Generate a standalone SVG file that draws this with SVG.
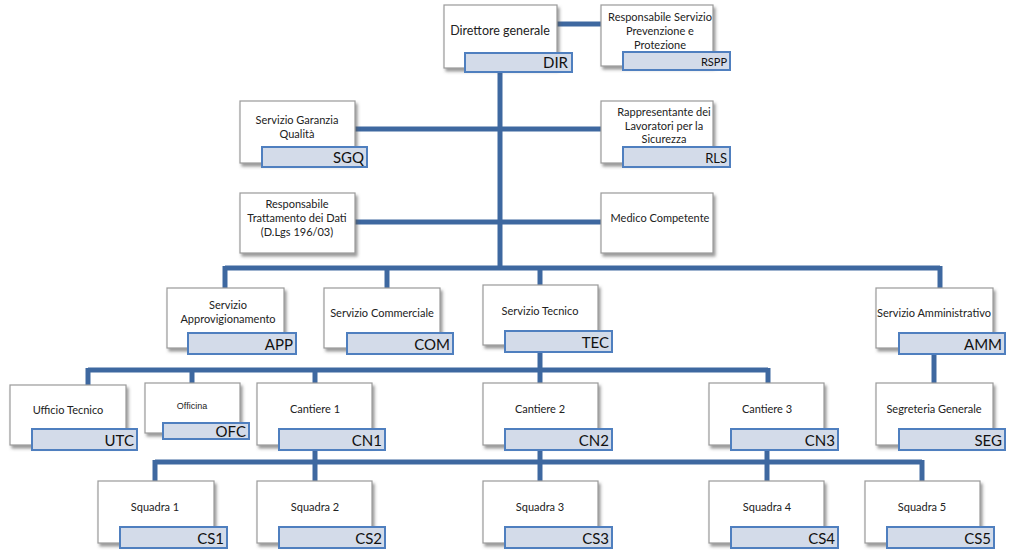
<svg xmlns="http://www.w3.org/2000/svg" width="1024" height="558" viewBox="0 0 1024 558">
<defs>
<filter id="sh" x="-10%" y="-10%" width="130%" height="130%">
<feDropShadow dx="2" dy="3" stdDeviation="1.5" flood-color="#555" flood-opacity="0.6"/>
</filter>
</defs>
<style>
.box{fill:#fff;stroke:#9a9a9a;stroke-width:1.2;filter:url(#sh)}
.bar{fill:#d3dbe9;stroke:#4f7fbf;stroke-width:2}
.t{font-family:Lato,"Open Sans",sans-serif;font-size:11px;fill:#222;text-anchor:middle}
.c{font-family:Lato,"Open Sans",sans-serif;font-size:15px;fill:#111;text-anchor:end}
.cs{font-family:Lato,"Open Sans",sans-serif;font-size:11px;fill:#111;text-anchor:end}
.ln{stroke:#3e68a0;stroke-width:5;fill:none}
</style>
<rect width="1024" height="558" fill="#fff"/>
<g id="connectors">
<line class="ln" x1="557" y1="24" x2="601" y2="24"/>
<line class="ln" x1="500" y1="72" x2="500" y2="268"/>
<line class="ln" x1="355" y1="129" x2="601" y2="129"/>
<line class="ln" x1="355" y1="222" x2="601" y2="222"/>
<line class="ln" x1="225" y1="268" x2="940" y2="268"/>
<line class="ln" x1="225" y1="266" x2="225" y2="288"/>
<line class="ln" x1="387" y1="266" x2="387" y2="288"/>
<line class="ln" x1="540" y1="266" x2="540" y2="285"/>
<line class="ln" x1="940" y1="266" x2="940" y2="288"/>
<line class="ln" x1="540" y1="352" x2="540" y2="370"/>
<line class="ln" x1="88" y1="370" x2="768" y2="370"/>
<line class="ln" x1="88" y1="368" x2="88" y2="385"/>
<line class="ln" x1="192" y1="368" x2="192" y2="383"/>
<line class="ln" x1="315" y1="368" x2="315" y2="383"/>
<line class="ln" x1="540" y1="368" x2="540" y2="383"/>
<line class="ln" x1="768" y1="368" x2="768" y2="383"/>
<line class="ln" x1="934" y1="354" x2="934" y2="383"/>
<line class="ln" x1="155" y1="462" x2="922" y2="462"/>
<line class="ln" x1="315" y1="450" x2="315" y2="462"/>
<line class="ln" x1="540" y1="450" x2="540" y2="481"/>
<line class="ln" x1="767" y1="450" x2="767" y2="481"/>
<line class="ln" x1="155" y1="460" x2="155" y2="481"/>
<line class="ln" x1="315" y1="460" x2="315" y2="481"/>
<line class="ln" x1="922" y1="460" x2="922" y2="481"/>
</g>
<g id="DIR">
<rect class="box" x="444" y="5" width="113" height="63"/>
<text class="t" x="500" y="35" style="font-size:12.5px">Direttore generale</text>
<rect class="bar" x="465" y="53" width="107" height="19"/>
<text class="c" x="568" y="68">DIR</text>
</g>
<g id="RSPP">
<rect class="box" x="601" y="5" width="112" height="61"/>
<text class="t" x="660" y="21">Responsabile Servizio</text>
<text class="t" x="660" y="35">Prevenzione e</text>
<text class="t" x="660" y="49">Protezione</text>
<rect class="bar" x="623" y="52" width="107" height="18"/>
<text class="cs" x="727" y="66">RSPP</text>
</g>
<g id="SGQ">
<rect class="box" x="240" y="101" width="115" height="62"/>
<text class="t" x="297" y="124">Servizio Garanzia</text>
<text class="t" x="297" y="138">Qualità</text>
<rect class="bar" x="262" y="147" width="105" height="20"/>
<text class="c" x="364" y="163">SGQ</text>
</g>
<g id="RLS">
<rect class="box" x="601" y="101" width="112" height="62"/>
<text class="t" x="664" y="116">Rappresentante dei</text>
<text class="t" x="664" y="130">Lavoratori per la</text>
<text class="t" x="664" y="143">Sicurezza</text>
<rect class="bar" x="623" y="147" width="107" height="20"/>
<text class="c" x="727" y="163" style="font-size:13px">RLS</text>
</g>
<g id="RTD">
<rect class="box" x="240" y="193" width="115" height="60"/>
<text class="t" x="297" y="208">Responsabile</text>
<text class="t" x="297" y="222">Trattamento dei Dati</text>
<text class="t" x="297" y="236">(D.Lgs 196/03)</text>
</g>
<g id="MED">
<rect class="box" x="601" y="193" width="112" height="60"/>
<text class="t" x="660" y="222">Medico Competente</text>
</g>
<g id="APP">
<rect class="box" x="167" y="288" width="117" height="60"/>
<text class="t" x="228" y="309">Servizio</text>
<text class="t" x="228" y="323">Approvigionamento</text>
<rect class="bar" x="188" y="333" width="108" height="21"/>
<text class="c" x="293" y="350">APP</text>
</g>
<g id="COM">
<rect class="box" x="324" y="288" width="116" height="60"/>
<text class="t" x="382" y="317">Servizio Commerciale</text>
<rect class="bar" x="347" y="333" width="106" height="21"/>
<text class="c" x="450" y="350">COM</text>
</g>
<g id="TEC">
<rect class="box" x="483" y="285" width="115" height="60"/>
<text class="t" x="540" y="315">Servizio Tecnico</text>
<rect class="bar" x="505" y="331" width="107" height="21"/>
<text class="c" x="609" y="348">TEC</text>
</g>
<g id="AMM">
<rect class="box" x="876" y="288" width="117" height="60"/>
<text class="t" x="934" y="317">Servizio Amministrativo</text>
<rect class="bar" x="899" y="333" width="106" height="21"/>
<text class="c" x="1002" y="350">AMM</text>
</g>
<g id="UTC">
<rect class="box" x="10" y="385" width="116" height="60"/>
<text class="t" x="68" y="414">Ufficio Tecnico</text>
<rect class="bar" x="32" y="429" width="105" height="21"/>
<text class="c" x="134" y="446">UTC</text>
</g>
<g id="OFC">
<rect class="box" x="145" y="383" width="95" height="50"/>
<text class="t" x="192" y="409" style="font-size:9px;font-family:'Liberation Sans',sans-serif">Officina</text>
<rect class="bar" x="163" y="423" width="86" height="16"/>
<text class="c" x="246" y="437">OFC</text>
</g>
<g id="CN1">
<rect class="box" x="257" y="383" width="115" height="62"/>
<text class="t" x="315" y="413">Cantiere 1</text>
<rect class="bar" x="279" y="429" width="106" height="21"/>
<text class="c" x="382" y="446">CN1</text>
</g>
<g id="CN2">
<rect class="box" x="483" y="383" width="115" height="62"/>
<text class="t" x="540" y="413">Cantiere 2</text>
<rect class="bar" x="505" y="429" width="107" height="21"/>
<text class="c" x="609" y="446">CN2</text>
</g>
<g id="CN3">
<rect class="box" x="709" y="383" width="115" height="62"/>
<text class="t" x="767" y="413">Cantiere 3</text>
<rect class="bar" x="731" y="429" width="107" height="21"/>
<text class="c" x="835" y="446">CN3</text>
</g>
<g id="SEG">
<rect class="box" x="876" y="383" width="117" height="62"/>
<text class="t" x="934" y="413">Segreteria Generale</text>
<rect class="bar" x="899" y="429" width="106" height="21"/>
<text class="c" x="1002" y="446">SEG</text>
</g>
<g id="CS1">
<rect class="box" x="98" y="481" width="116" height="62"/>
<text class="t" x="155" y="511">Squadra 1</text>
<rect class="bar" x="120" y="527" width="107" height="21"/>
<text class="c" x="224" y="544">CS1</text>
</g>
<g id="CS2">
<rect class="box" x="257" y="481" width="115" height="62"/>
<text class="t" x="315" y="511">Squadra 2</text>
<rect class="bar" x="279" y="527" width="106" height="21"/>
<text class="c" x="382" y="544">CS2</text>
</g>
<g id="CS3">
<rect class="box" x="483" y="481" width="115" height="62"/>
<text class="t" x="540" y="511">Squadra 3</text>
<rect class="bar" x="505" y="527" width="107" height="21"/>
<text class="c" x="609" y="544">CS3</text>
</g>
<g id="CS4">
<rect class="box" x="709" y="481" width="115" height="62"/>
<text class="t" x="767" y="511">Squadra 4</text>
<rect class="bar" x="731" y="527" width="107" height="21"/>
<text class="c" x="835" y="544">CS4</text>
</g>
<g id="CS5">
<rect class="box" x="865" y="481" width="115" height="62"/>
<text class="t" x="922" y="511">Squadra 5</text>
<rect class="bar" x="887" y="527" width="107" height="21"/>
<text class="c" x="991" y="544">CS5</text>
</g>
</svg>
